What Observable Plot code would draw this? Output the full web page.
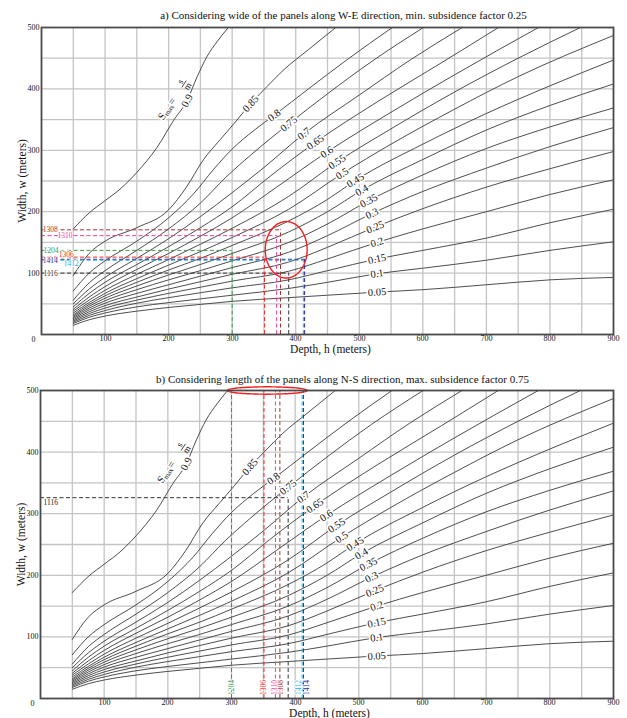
<!DOCTYPE html>
<html><head><meta charset="utf-8">
<script src="https://cdn.jsdelivr.net/npm/d3@7"></script>
<script src="https://cdn.jsdelivr.net/npm/@observablehq/plot@0.6"></script>
<style>
html,body{margin:0;padding:0;background:#fff;}
#chart{width:627px;height:718px;}
svg{display:block;}
</style></head><body><div id="chart"></div>
<script>
// ---------------- data ----------------
const factors = ["0.05","0.1","0.15","0.2","0.25","0.3","0.35","0.4","0.45","0.5","0.55","0.6","0.65","0.7","0.75","0.8","0.85","0.9"];
const s005 = [[50,15],[75,24],[100,30],[150,38],[200,44],[250,49],[300,54],[389,60],[450,64],[528,69],[600,73],[700,81],[800,89],[900,93]];
const s010 = [[50,18],[75,28],[100,35],[150,45],[200,52],[250,58],[300,64],[389,75],[450,85],[528,99],[600,108],[700,121],[800,137],[900,151]];
const s015 = [[50,20],[75,31],[100,39],[150,51],[200,60],[250,68],[300,76],[389,89],[450,104],[528,123],[600,137],[700,157],[800,182],[900,204]];
const s020 = [[50,22],[75,34],[100,43],[150,56],[200,67],[250,77],[300,87],[389,103],[450,123],[528,150],[600,172],[700,200],[800,228],[900,252]];
const s025 = [[50,24],[75,37],[100,47],[150,61],[200,74],[250,86],[300,98],[389,118],[450,142],[525,175],[600,205],[700,240],[800,270],[900,298]];
const s030 = [[50,26],[75,40],[100,51],[150,67],[200,81],[250,95],[300,109],[389,134],[450,161],[520,197],[600,233],[700,271],[800,306],[900,337]];
const s035 = [[50,28],[75,43],[100,55],[150,73],[200,89],[250,104],[300,120],[389,150],[450,180],[515,218],[600,260],[700,303],[800,338],[900,369]];
const s040 = [[50,30],[75,46],[100,59],[150,79],[200,97],[250,114],[300,132],[389,167],[450,200],[504,235],[600,285],[700,333],[800,373],[900,408]];
const s045 = [[50,32],[75,49],[100,63],[150,85],[200,105],[250,124],[300,145],[389,185],[450,220],[494,251],[600,310],[700,360],[800,405],[900,447]];
const s050 = [[50,35],[75,52],[100,67],[150,91],[200,113],[250,135],[300,158],[389,204],[473,262],[550,310],[650,367],[750,420],[900,487]];
const s055 = [[50,38],[75,56],[100,72],[150,98],[200,122],[250,147],[300,173],[389,225],[465,281],[550,335],[650,395],[750,450],[848,500]];
const s060 = [[50,41],[75,61],[100,78],[150,106],[200,132],[250,160],[300,190],[370,240],[449,297],[550,362],[650,423],[782,500]];
const s065 = [[50,45],[75,67],[100,85],[150,114],[200,143],[250,174],[300,208],[360,258],[431,313],[530,380],[630,443],[719,500]];
const s070 = [[50,50],[75,74],[100,93],[150,124],[200,156],[250,192],[300,231],[350,272],[413,327],[500,390],[580,447],[662,500]];
const s075 = [[50,56],[75,84],[100,104],[150,137],[200,172],[250,214],[290,256],[330,293],[389,343],[450,392],[520,445],[601,500]];
const s080 = [[50,71],[75,100],[100,120],[150,152],[200,190],[240,230],[270,268],[300,302],[335,333],[366,357],[420,400],[480,447],[552,500]];
const s085 = [[50,96],[75,132],[100,152],[150,174],[200,203],[228,240],[255,285],[280,316],[305,346],[329,376],[355,404],[380,430],[420,464],[463,500]];
const s090 = [[50,172],[75,198],[100,218],[125,238],[150,264],[182,305],[208,349],[229,381],[245,420],[260,452],[277,478],[294,500]];
const curveList = [s005,s010,s015,s020,s025,s030,s035,s040,s045,s050,s055,s060,s065,s070,s075,s080,s085,s090];
const labelH = [528,528,528,528,525,520,515,504,494,473,465,449,431,413,389,366,329,229];

const xTicks = [100,200,300,400,500,600,700,800,900];
const yTicks = [100,200,300,400,500];
const gridX = [50,100,150,200,250,300,350,400,450,500,550,600,650,700,750,800,850];
const gridY = [50,100,150,200,250,300,350,400,450];

const caseIds    = ["1308","1310","1204","1306","1414","1412","1116"];
const caseColors = ["#a83232","#e8409a","#3a9a4c","#f02828","#2a2a96","#30aee0","#333333"];
const caseDepthA = [376,370,300,351,414,412,389];
const caseWidthA = [170.5,161,137,126,122.5,121,100];
const caseLabelHA = [2,25,3,27,2,35,3];
const caseDepthB = [376,369,300,351,413,411,389];
const widthB1116 = 326;

const titleA = "a) Considering wide of the panels along W-E direction, min. subsidence factor 0.25";
const titleB = "b) Considering length of the panels along N-S direction, max. subsidence factor 0.75";
const xLabel = "Depth, h (meters)";
const yLabel = "Width, w (meters)";

const ellipseA = {h:385, w:138, rh:33, rw:46};
const ellipseB = {h:356, w:500, rh:63, rw:6};

// ---------------- helpers ----------------
function interp(pts, h) {
  if (h <= pts[0][0]) return pts[0][1];
  for (let i = 1; i < pts.length; i++) {
    if (h <= pts[i][0]) { const [h0,w0]=pts[i-1],[h1,w1]=pts[i]; return w0 + (w1-w0)*(h-h0)/(h1-h0); }
  }
  return pts[pts.length-1][1];
}
function ellipsePts(e) {
  const out = [];
  for (let i = 0; i < 96; i++) { const t = 2*Math.PI*i/96; out.push({h: e.h + e.rh*Math.cos(t), w: e.w + e.rw*Math.sin(t)}); }
  return out;
}
const FONT = "'Liberation Serif', 'Times New Roman', serif";
const dash = "4,2.5";

function buildPanel(cfg) {
  const W = 627;
  const kx = (W - cfg.ml - cfg.mr)/900, ky = (cfg.height - cfg.mt - cfg.mb)/500;
  const rows = [];
  curveList.forEach((pts,i)=>pts.forEach(([h,w])=>rows.push({f:factors[i],h,w})));
  const labels = factors.map((f,i)=>{
    const pts = curveList[i], h = labelH[i], w = interp(pts,h);
    const d = 12, wa = interp(pts,h-d), wb = interp(pts,h+d);
    const ang = Math.atan2(-(wb-wa)*ky, 2*d*kx)*180/Math.PI;
    return {f, h, w, ang};
  });
  const marks = [
    Plot.ruleX(gridX, {stroke:"#c4c4c4", strokeWidth:1.3}),
    Plot.ruleY(gridY, {stroke:"#c4c4c4", strokeWidth:1.3}),
    Plot.line(rows, {x:"h", y:"w", z:"f", curve:"monotone-x", stroke:"#3a3a3a", strokeWidth:0.9}),
    ...cfg.annot(),
    Plot.text(labels, {x:"h", y:"w", text:"f", rotate:"ang", fontSize:10.5, fontFamily:FONT, fill:"#111", stroke:"white", strokeWidth:3.5, textAnchor:"middle", lineAnchor:"middle"}),
    Plot.line(ellipsePts(cfg.ellipse), {x:"h", y:"w", curve:"linear-closed", stroke:"#ee2222", strokeWidth:1.4}),
    Plot.frame({stroke:"#4a4a4a", strokeWidth:1.8}),
    Plot.text([cfg.title], {frameAnchor:"top-left", dx:cfg.titleDx, dy:cfg.titleDy, textAnchor:"middle", lineAnchor:"middle", fontSize:11, fontFamily:FONT, fill:"#111"}),
    Plot.text([xLabel], {frameAnchor:"bottom-left", dx:289, dy:cfg.xlabDy, textAnchor:"middle", lineAnchor:"middle", fontSize:11.5, fontFamily:FONT, fill:"#111"}),
    Plot.text([yLabel], {frameAnchor:"left", dx:-19, rotate:-90, textAnchor:"middle", lineAnchor:"middle", fontSize:11.5, fontFamily:FONT, fill:"#111"}),
    Plot.text(["0"], {frameAnchor:"bottom-left", dx:-8, dy:5, textAnchor:"middle", lineAnchor:"middle", fontSize:8, fontFamily:FONT, fill:"#111"})
  ];
  const plot = Plot.plot({
    width: W, height: cfg.height,
    marginTop: cfg.mt, marginBottom: cfg.mb, marginLeft: cfg.ml, marginRight: cfg.mr,
    style: {fontFamily: FONT, fontSize: "8px", background: "white", color:"#111"},
    x: {domain:[0,900], ticks:xTicks, tickSize:0, tickPadding:1, label:null},
    y: {domain:[0,500], ticks:yTicks, tickSize:0, tickPadding:2, label:null},
    marks
  });
  // snap axis tick-label positions to whole pixels so the small text renders crisply
  d3.select(plot).selectAll('g[aria-label$="tick label"] text').each(function() {
    const tr = this.getAttribute("transform");
    const m = tr && tr.match(/^translate\(([-\d.e]+),([-\d.e]+)\)$/);
    if (m) this.setAttribute("transform", `translate(${Math.round(+m[1])},${Math.round(+m[2])})`);
  });
  // S_max = s/m label beside the 0.9 contour label, positioned through the plot's scales
  const xs = plot.scale("x"), ys = plot.scale("y");
  const sx = d3.scaleLinear(xs.domain, xs.range), sy = d3.scaleLinear(ys.domain, ys.range);
  const lab = labels[labels.length-1];
  const g = d3.select(plot).append("g")
    .attr("transform", `translate(${sx(lab.h)},${sy(lab.w)}) rotate(${lab.ang + 6})`)
    .attr("font-family", FONT).attr("fill", "#111");
  const t = g.append("text").attr("x", -18).attr("y", -8).attr("font-size", 11)
    .attr("stroke","white").attr("stroke-width",3).attr("paint-order","stroke");
  t.append("tspan").text("S");
  t.append("tspan").attr("font-size", 7).attr("dy", 1.5).text("max");
  t.append("tspan").attr("dy", -1.5).text("=");
  g.append("text").attr("x", 12).attr("y", -12.5).attr("font-size", 9).attr("text-anchor","middle").text("s");
  g.append("line").attr("x1", 8).attr("x2", 16).attr("y1", -11).attr("y2", -11).attr("stroke", "#111").attr("stroke-width", 0.7);
  g.append("text").attr("x", 12).attr("y", -4).attr("font-size", 9).attr("text-anchor","middle").text("m");
  return plot;
}

const panelA = buildPanel({
  height:360, mt:27, mb:26, ml:41, mr:14, title:titleA, titleDx:302, titleDy:-12, xlabDy:15, ellipse:ellipseA,
  annot: () => {
    const rows = caseIds.map((id,i)=>({id, c:caseColors[i], h:caseDepthA[i], w:caseWidthA[i], lh:caseLabelHA[i]}));
    const ldy = [0,0,0,-2.5,1.5,3,0.5];
    return [
      Plot.ruleY(rows, {y:"w", x1:0, x2:"h", stroke:"c", strokeDasharray:dash, strokeWidth:1}),
      Plot.ruleX(rows, {x:"h", y1:0, y2:"w", stroke:"c", strokeDasharray:dash, strokeWidth:1}),
      ...rows.map((r,i) => Plot.text([r], {x:"lh", y:"w", text:"id", fill:"c", dy:ldy[i], fontSize:7.5, fontFamily:FONT, textAnchor:"start", lineAnchor:"middle", stroke:"white", strokeWidth:1.5}))
    ];
  }
});
const panelB = buildPanel({
  height:358, mt:30, mb:20, ml:40, mr:14, title:titleB, titleDx:302, titleDy:-11, xlabDy:15, ellipse:ellipseB,
  annot: () => {
    const rows = caseIds.map((id,i)=>({id, c:caseColors[i], h:caseDepthB[i]}));
    const tall = rows.filter(r=>r.id!=="1116");
    const bdx = {"1308":0.7,"1310":-0.7,"1204":0,"1306":0,"1414":2.7,"1412":-4};
    const one = [{id:"1116", c:caseColors[6], h:caseDepthB[6], w:widthB1116}];
    return [
      Plot.ruleX(tall, {x:"h", y1:0, y2:500, stroke:"c", strokeDasharray:dash, strokeWidth:1}),
      Plot.ruleX(one, {x:"h", y1:0, y2:"w", stroke:"c", strokeDasharray:dash, strokeWidth:1}),
      Plot.ruleY(one, {y:"w", x1:0, x2:"h", stroke:"c", strokeDasharray:dash, strokeWidth:1}),
      ...tall.map(r => Plot.text([r], {x:"h", y:0, text:"id", fill:"c", rotate:-90, dx:bdx[r.id], dy:-3.5, fontSize:7.5, fontFamily:FONT, textAnchor:"start", lineAnchor:"middle", stroke:"white", strokeWidth:1.5})),
      Plot.text(one, {x:0, y:"w", text:"id", fill:"#222", dx:3, dy:5, fontSize:7.5, fontFamily:FONT, textAnchor:"start", lineAnchor:"middle"})
    ];
  }
});
document.getElementById("chart").append(panelA, panelB);
</script>
</body></html>
